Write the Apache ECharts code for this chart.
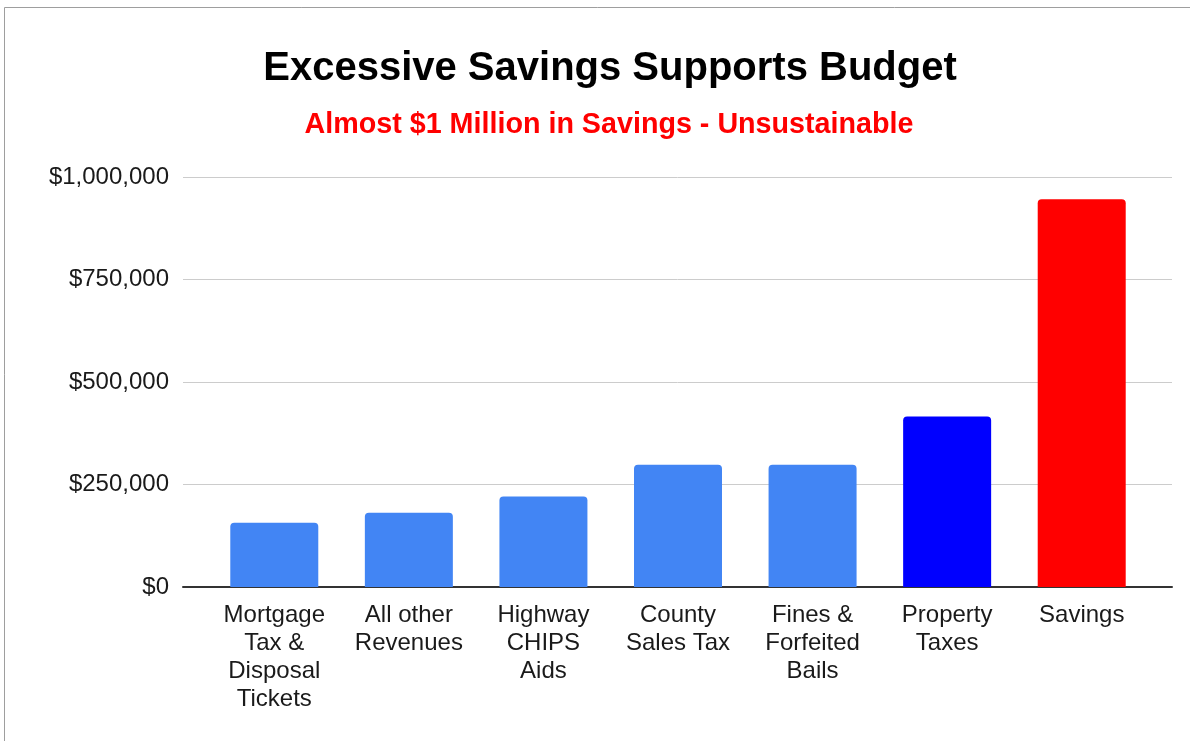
<!DOCTYPE html>
<html><head><meta charset="utf-8">
<script src="https://cdn.jsdelivr.net/npm/echarts@6/dist/echarts.min.js"></script>
<style>html,body{margin:0;padding:0;background:#fff}#c{width:1190px;height:741px}</style>
</head><body><div id="c"></div>
<script>
const titleText = 'Excessive Savings Supports Budget';
const subtitleText = 'Almost $1 Million in Savings - Unsustainable';
const categories = ['Mortgage\nTax &\nDisposal\nTickets', 'All other\nRevenues', 'Highway\nCHIPS\nAids', 'County\nSales Tax', 'Fines &\nForfeited\nBails', 'Property\nTaxes', 'Savings'];
const values = [157000, 181000, 221000, 298000, 298000, 416000, 946000];
const barColors = ['#4285F4', '#4285F4', '#4285F4', '#4285F4', '#4285F4', '#0000FF', '#FF0000'];
const yTicks = [0, 250000, 500000, 750000, 1000000];

const chart = echarts.init(document.getElementById('c'));
const FONT = 'Liberation Sans';
const fmt = v => '$' + v.toLocaleString('en-US');
chart.setOption({
  animation: false,
  backgroundColor: '#fff',
  graphic: [
    {type: 'rect', shape: {x: 4.5, y: 7.5, width: 1200, height: 800}, style: {fill: 'none', stroke: '#9e9e9e', lineWidth: 1}, z: -10},
    {type: 'text', x: 610, y: 69, style: {text: titleText, fontFamily: FONT, fontWeight: 'bold', fontSize: 40, fill: '#000', textAlign: 'center', textVerticalAlign: 'middle'}},
    {type: 'text', x: 609, y: 125, style: {text: subtitleText, fontFamily: FONT, fontWeight: 'bold', fontSize: 28.7, fill: '#FF0000', textAlign: 'center', textVerticalAlign: 'middle'}}
  ],
  grid: [
    {left: 183, right: 18, top: 177, bottom: 154},
    {left: 207, right: 41, top: 177, bottom: 154}
  ],
  xAxis: [
    {type: 'category', gridIndex: 0, data: ['a'], axisLine: {show: true, lineStyle: {color: '#333', width: 2}}, axisTick: {show: false}, axisLabel: {show: false}},
    {type: 'category', gridIndex: 1, data: categories, axisLine: {show: false}, axisTick: {show: false},
     axisLabel: {show: true, interval: 0, fontFamily: FONT, fontSize: 24, color: '#1a1a1a', lineHeight: 28, margin: 14}}
  ],
  yAxis: [
    {type: 'value', gridIndex: 0, min: yTicks[0], max: yTicks[yTicks.length - 1], interval: 250000,
     axisLine: {show: false}, axisTick: {show: false},
     splitLine: {lineStyle: {color: '#cccccc', width: 1}},
     axisLabel: {fontFamily: FONT, fontSize: 24, color: '#1a1a1a', margin: 14, formatter: fmt}},
    {type: 'value', gridIndex: 1, min: yTicks[0], max: yTicks[yTicks.length - 1], interval: 250000,
     show: false, splitLine: {show: false}}
  ],
  series: [{
    type: 'bar', xAxisIndex: 1, yAxisIndex: 1, barWidth: 88,
    data: values.map((v, i) => ({value: v, itemStyle: {color: barColors[i], borderRadius: [4, 4, 0, 0]}})),
    z: 3
  }]
});
</script></body></html>
